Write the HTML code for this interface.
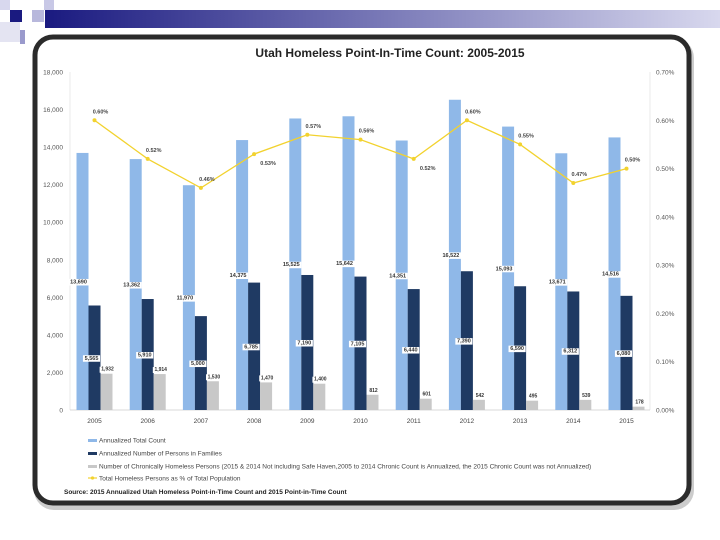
<!DOCTYPE html>
<html><head><meta charset="utf-8"><style>
html,body{margin:0;padding:0;background:#fff;width:720px;height:540px;overflow:hidden;font-family:"Liberation Sans",sans-serif}
</style></head><body>
<svg width="720" height="540" viewBox="0 0 720 540" xmlns="http://www.w3.org/2000/svg">
<defs><linearGradient id="hg" x1="0" x2="1"><stop offset="0" stop-color="#1a1a80"/><stop offset="1" stop-color="#d8d8ee"/></linearGradient></defs>
<g>
<rect x="45" y="10" width="675" height="18" fill="url(#hg)"/>
<rect x="0" y="0" width="10" height="10" fill="#d8d8ee"/>
<rect x="10" y="10" width="12" height="12" fill="#1a1a80"/>
<rect x="32" y="10" width="12" height="12" fill="#b8b8dc"/>
<rect x="44" y="0" width="10" height="10" fill="#c8c8e6"/>
<rect x="0" y="22" width="20" height="20" fill="#e4e4f2"/>
<rect x="20" y="30" width="5" height="14" fill="#9a9acc"/>
</g>
<rect x="34" y="38" width="660" height="472" rx="20" fill="#ccc"/>
<rect x="35" y="37" width="654" height="466" rx="18" fill="#fff" stroke="#2b2b2b" stroke-width="5"/>
<text x="390" y="57" text-anchor="middle" font-size="12" font-weight="bold" fill="#222">Utah Homeless Point-In-Time Count: 2005-2015</text>
<g id="chart"></g>
<g font-size="6.5" fill="#444">
<rect x="88" y="439" width="9" height="3" fill="#8fb8e8"/>
<text x="99" y="442.5">Annualized Total Count</text>
<rect x="88" y="452" width="9" height="3" fill="#1f3a63"/>
<text x="99" y="455.5">Annualized Number of Persons in Families</text>
<rect x="88" y="465" width="9" height="3" fill="#c8c8c8"/>
<text x="99" y="468.5">Number of Chronically Homeless Persons (2015 &amp; 2014 Not including Safe Haven,2005 to 2014 Chronic Count is Annualized, the 2015 Chronic Count was not Annualized)</text>
<line x1="88" y1="478" x2="97" y2="478" stroke="#f2d22e" stroke-width="1.2"/><circle cx="92.5" cy="478" r="1.6" fill="#f2d22e"/>
<text x="99" y="480.5">Total Homeless Persons as % of Total Population</text>
</g>
<text x="64" y="494" font-size="6.5" font-weight="bold" fill="#222">Source: 2015 Annualized Utah Homeless Point-in-Time Count and 2015 Point-in-Time Count</text>
</svg>
<script>
const years=["2005","2006","2007","2008","2009","2010","2011","2012","2013","2014","2015"];
const totals=[13690,13362,11970,14375,15525,15642,14351,16522,15093,13671,14516];
const families=[5565,5910,5000,6785,7190,7105,6440,7390,6590,6312,6080];
const chronic=[1932,1914,1530,1470,1400,812,601,542,495,539,178];
const pct=[0.60,0.52,0.46,0.53,0.57,0.56,0.52,0.60,0.55,0.47,0.50];
const pctBelow=[false,false,false,true,false,false,true,false,false,false,false];
const leftTicks=[0,2000,4000,6000,8000,10000,12000,14000,16000,18000];
const rightTicks=[0,0.1,0.2,0.3,0.4,0.5,0.6,0.7];
const NS="http://www.w3.org/2000/svg";
const g=document.getElementById('chart');
const y0=410,yTop=72,xL=70,xR=650;
const yL=v=>y0-v/18000*(y0-yTop);
const yR=v=>y0-v/0.7*(y0-yTop);
const xC=i=>94.5+i*53.2;
function mk(t,a,p){const e=document.createElementNS(NS,t);for(const k in a)e.setAttribute(k,a[k]);(p||g).appendChild(e);return e;}
const fmt=v=>v.toLocaleString('en-US');
let e=mk('line',{x1:xL,x2:xL,y1:yTop,y2:y0,stroke:'#ddd','stroke-width':0.6});

e=mk('line',{x1:xR,x2:xR,y1:yTop,y2:y0,stroke:'#ddd','stroke-width':0.6});

e=mk('line',{x1:xL,x2:xR,y1:y0,y2:y0,stroke:'#ccc','stroke-width':0.8});

leftTicks.forEach(v=>{const t=mk('text',{x:63,y:yL(v)+2.5,'text-anchor':'end','font-size':6.5,fill:'#555'});t.textContent=fmt(v);
});
rightTicks.forEach(v=>{const t=mk('text',{x:656,y:yR(v)+2.5,'font-size':6.5,fill:'#555'});t.textContent=v.toFixed(2)+'%';
});
function lab(x,y,txt,fs,name){const w=txt.length*fs*0.55+2;
const r=mk('rect',{x:x-w/2,y:y-fs+1,width:w,height:fs+1,fill:'#fff'});
const t=mk('text',{x:x,y:y,'text-anchor':'middle','font-size':fs,'font-weight':'bold',fill:'#333'});t.textContent=txt;
}
years.forEach((yr,i)=>{const c=xC(i),bw=12;
let b=mk('rect',{x:c-18,y:yL(totals[i]),width:bw,height:y0-yL(totals[i]),fill:'#8fb8e8'});

b=mk('rect',{x:c-6,y:yL(families[i]),width:bw,height:y0-yL(families[i]),fill:'#1f3a63'});

b=mk('rect',{x:c+6,y:yL(chronic[i]),width:bw,height:y0-yL(chronic[i]),fill:'#c8c8c8'});

lab(c-16,yL(totals[i]/2)+2,fmt(totals[i]),5.5,'label-total');
lab(c-3,yL(families[i]/2)+2,fmt(families[i]),5.5,'label-families');
lab(c+13,yL(chronic[i])-3,fmt(chronic[i]),5,'label-chronic');
const t=mk('text',{x:c,y:423,'text-anchor':'middle','font-size':6.5,fill:'#444'});t.textContent=yr;

});
let d='';pct.forEach((v,i)=>{d+=(i?'L':'M')+xC(i)+','+yR(v);});
e=mk('path',{d:d,fill:'none',stroke:'#f2d22e','stroke-width':1.3});

pct.forEach((v,i)=>{const c=xC(i),y=yR(v);
const p=mk('circle',{cx:c,cy:y,r:2,fill:'#f2d22e'});
const t=mk('text',{x:pctBelow[i]?c+14:c+6,y:pctBelow[i]?y+11:y-7,'text-anchor':'middle','font-size':5.5,'font-weight':'bold',fill:'#444'});
t.textContent=v.toFixed(2)+'%';});
</script>
</body></html>
